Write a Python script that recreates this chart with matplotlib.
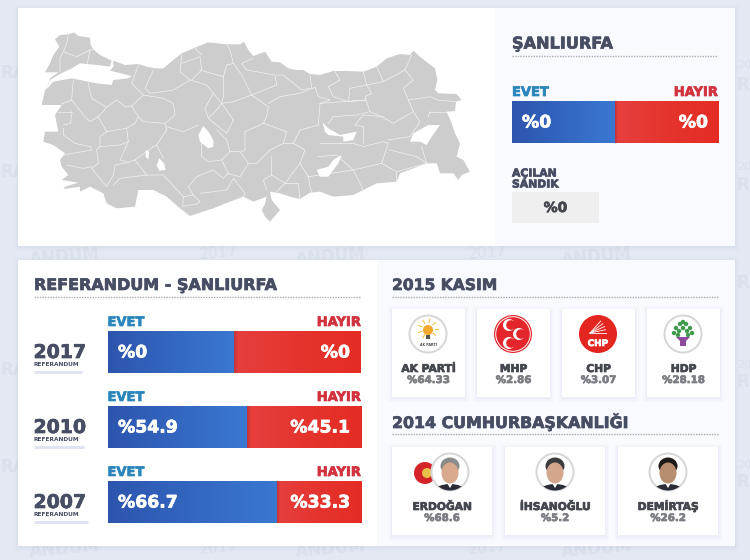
import numpy as np
import matplotlib
matplotlib.use('Agg')
import matplotlib.pyplot as plt
import matplotlib.patheffects as pe
from matplotlib.colors import LinearSegmentedColormap
from matplotlib.patches import Rectangle, Circle, Ellipse, Polygon

plt.rcParams['font.family'] = ['DejaVu Sans']
plt.rcParams['font.weight'] = 'bold'

# data
city = 'ŞANLIURFA'
current_evet = [0]
current_hayir = [0]
opened = 0

ref_years = ['2017', '2010', '2007']
ref_evet = [0, 54.9, 66.7]
ref_hayir = [0, 45.1, 33.3]

party_names = ['AK PARTİ', 'MHP', 'CHP', 'HDP']
party_vals = ['%64.33', '%2.86', '%3.07', '%28.18']

cand_names = ['ERDOĞAN', 'İHSANOĞLU', 'DEMİRTAŞ']
cand_vals = ['%68.6', '%5.2', '%26.2']

# map, 3x pixel coords
anatolia = [(340,182),(375,195),(415,192),(440,200),(465,205),(490,205),(520,180),(545,160),(585,143),(625,127),
            (680,133),(720,133),(732,125),(745,150),(760,168),(795,155),(815,185),(840,187),(865,205),(890,210),
            (910,210),(930,222),(960,225),(1000,213),(1040,213),(1090,215),(1130,200),(1160,175),(1200,162),(1230,165),
            (1240,152),(1260,170),(1285,190),(1305,205),(1312,240),(1305,270),(1315,280),(1370,282),(1385,300),(1368,305),
            (1365,333),(1340,335),(1355,370),(1365,400),(1380,430),(1370,470),(1390,480),(1410,515),(1385,525),(1375,540),
            (1360,520),(1320,520),(1310,490),(1280,490),(1240,505),(1200,520),(1190,545),(1130,550),(1100,565),(1060,585),
            (1000,590),(960,575),(930,578),(900,597),(870,590),(840,580),(810,575),(815,600),(840,630),(810,665),
            (795,650),(785,630),(795,612),(800,590),(760,605),(730,590),(690,605),(640,625),(570,648),(540,625),
            (500,590),(460,570),(415,570),(405,620),(350,625),(320,610),(310,580),(270,560),(240,575),(240,560),
            (190,567),(195,560),(235,548),(185,540),(205,525),(185,500),(180,480),(195,460),(160,435),(130,425),
            (135,395),(175,395),(165,345),(185,315),(125,315),(135,270),(145,262),(160,245),(215,235),(240,240),
            (290,250),(335,255),(340,240),(385,235),(395,228),(330,212),(340,200)]
thrace = [(165,118),(180,105),(205,103),(222,97),(235,108),(270,113),(272,135),(280,148),(300,165),(335,182),
          (330,200),(290,195),(240,190),(215,205),(180,222),(150,240),(140,265),(150,235),(175,217),(135,217),
          (150,190),(160,165),(178,140)]
lakes = [[(610,378),(625,395),(640,420),(640,440),(625,445),(600,425),(595,405)],
         [(1230,425),(1240,400),(1285,375),(1320,375),(1295,410),(1280,435),(1260,425)],
         [(950,510),(985,500),(1000,480),(1025,465),(1015,490),(985,530),(960,530)],
         [(968,368),(985,385),(1020,405),(1070,395),(1060,420),(1030,425),(1030,410),(985,405),(975,395)],
         [(478,475),(492,490),(497,510),(478,512),(470,495)],
         [(437,450),(447,455),(445,478),(437,470)]]
borders = [[(205,103),(200,130),(190,155),(180,175),(180,215)],
           [(190,155),(230,170),(270,150),(280,148)],[(270,150),(262,190)],
           [(265,250),(275,295),(320,322),(350,300),(375,320),(395,318),(430,285),(395,250),(415,195)],
           [(220,240),(215,300),(185,312)],
           [(215,300),(250,345),(270,365),(295,350),(320,322)],
           [(215,335),(175,335)],[(215,335),(212,370),(190,375)],
           [(295,350),(320,395),(300,410),(300,440),(290,450)],
           [(320,395),(380,385),(385,425),(360,435),(300,440)],
           [(395,318),(415,350),(405,370),(380,385)],
           [(415,350),(430,365),(495,370),(525,345),(520,310),(490,295),(430,285)],
           [(190,385),(190,405),(225,430),(272,440),(275,450)],[(275,450),(190,465)],
           [(290,450),(295,490),(275,505),(320,560),(340,525),(345,495),(385,487)],
           [(200,495),(250,505),(275,500)],
           [(385,425),(360,480),(385,487),(405,480),(440,525)],
           [(340,555),(360,535),(440,525),(490,525),(550,590),(548,620)],
           [(495,370),(500,390),(470,435),(460,440),(405,480)],[(470,435),(490,475)],
           [(500,380),(550,395),(595,375)],
           [(605,430),(605,470),(625,485),(665,480),(690,455),(680,420),(650,390)],
           [(665,480),(685,520),(670,535),(640,510),(590,530),(565,560),(580,585),(550,590)],
           [(680,520),(720,530),(745,490),(720,455),(690,455)],
           [(580,585),(600,605),(590,612),(550,618)],
           [(600,580),(680,570),(700,535),(735,580),(730,590)],
           [(745,490),(770,490),(810,450),(850,430),(860,395),(790,370),(735,395),(735,450),(725,455)],
           [(700,360),(680,400),(625,355),(650,330),(665,310),(700,360)],
           [(665,310),(640,280),(615,325),(625,355)],
           [(640,280),(620,255),(570,240),(520,270),(450,280),(435,265),(460,210)],
           [(570,240),(540,215),(545,165)],[(575,240),(605,210),(600,170),(545,190)],[(585,145),(605,165)],
           [(600,210),(670,230),(680,195),(700,190),(690,150),(682,135)],
           [(670,230),(670,290),(665,310),(700,305),(755,285),(725,225),(700,190)],
           [(755,285),(805,320),(800,350),(790,370)],
           [(805,310),(840,290),(900,280),(945,262),(955,290),(990,300),(960,310),(955,375)],
           [(755,285),(830,255),(825,225),(740,210),(725,190),(760,175)],
           [(830,225),(850,225),(905,270),(930,265)],[(930,225),(935,262)],
           [(955,375),(900,390),(880,430),(850,430)],
           [(880,430),(915,450),(900,490),(925,530),(930,560),(935,578)],
           [(815,470),(815,525),(790,540),(800,570)],[(815,525),(855,550),(900,490)],
           [(855,550),(830,575)],[(855,550),(895,550),(900,597)],
           [(925,530),(1060,510),(1090,570)],[(955,470),(1010,465),(1060,510)],
           [(1060,510),(1145,490),(1165,430),(1150,425),(1090,440),(1060,430),(960,430)],
           [(1145,490),(1190,515),(1190,545)],[(1190,515),(1280,490)],
           [(1170,450),(1190,455),(1250,470),(1280,490),(1265,440)],
           [(1165,420),(1230,410),(1260,365),(1240,335),(1180,370),(1145,350),(1110,335),(1095,290),(1115,280)],
           [(1240,335),(1225,300),(1290,290),(1312,300),(1368,305)],
           [(1290,335),(1340,335)],[(1285,350),(1290,335)],
           [(1225,300),(1210,265),(1240,240),(1215,210),(1235,165)],
           [(1215,210),(1150,245),(1130,200)],[(1150,245),(1100,255),(1090,215)],[(1100,255),(1115,280)],
           [(1005,215),(1020,240),(985,260),(1000,290),(1045,305),(1050,265),(1100,255)],
           [(1100,300),(1045,305)],[(960,310),(1095,300)],
           [(1110,335),(1070,345),(1000,350),(985,370)],
           [(1150,350),(1090,345),(1065,375),(1090,380),(1090,430)],
           [(335,182),(340,200)]]

NAVY = '#474d63'
EVET_C = '#2b86bb'
HAYIR_C = '#d2333f'
WATER = '#dae0ec'
blue_map = LinearSegmentedColormap.from_list('b', ['#2d55ae', '#3a78d2'])
red_map = LinearSegmentedColormap.from_list('r', [(0, '#c23538'), (0.03, '#e63f3e'), (0.5, '#e5342e'), (1, '#e42c24')])

fig = plt.figure(figsize=(7.5, 5.6), dpi=100, facecolor='#e3e8f3')
ax = fig.add_axes([0, 0, 1, 1])
ax.set_xlim(0, 750)
ax.set_ylim(560, 0)
ax.axis('off')


def split_bar(x0, y0, x1, y1, evet, hayir):
    # own axes so the split comes from the percent scale
    b = fig.add_axes([x0 / 750, 1 - y1 / 560, (x1 - x0) / 750, (y1 - y0) / 560])
    b.set_xlim(0, 100)
    b.set_ylim(-0.5, 0.5)
    b.axis('off')
    if evet + hayir == 0:
        evet, hayir = 50, 50
    bars = b.barh([0, 0], [evet, hayir], left=[0, evet], height=1, color=['#3366c0', '#e53530'])
    for bar, cm in zip(bars, [blue_map, red_map]):
        im = b.imshow(np.linspace(0, 1, 128).reshape(1, -1),
                      extent=[bar.get_x(), bar.get_x() + bar.get_width(), -0.5, 0.5],
                      aspect='auto', cmap=cm, zorder=3)
        im.set_clip_path(bar)
    b.set_xlim(0, 100)
    b.set_ylim(-0.5, 0.5)


def card(x0, y0, x1, y1, z=1):
    for i, al in zip([4, 2.5, 1], [0.025, 0.035, 0.05]):
        ax.add_patch(Rectangle((x0 - i, y0 - i + 1), x1 - x0 + 2 * i, y1 - y0 + 2 * i, fc='#8f9bc0', ec='none', alpha=al, zorder=z))
    ax.add_patch(Rectangle((x0, y0), x1 - x0, y1 - y0, fc='white', ec='none', zorder=z))


def dotted(x0, x1, y):
    ax.plot([x0, x1], [y, y], color='#a9acb4', lw=1.0, ls=(0, (1, 0.9)), zorder=2)


def ring(x, y, r=18.5):
    c = Circle((x, y), r, fc='white', ec='#d6d6d6', lw=1.4, zorder=4)
    ax.add_patch(c)
    return c


def face(x, y, skin, hair, clip):
    # portrait stand-in
    suit = Ellipse((x, y + 19), 30, 14, fc='#2a2d38', ec='none', zorder=5)
    ax.add_patch(suit)
    suit.set_clip_path(clip)
    ax.add_patch(Polygon([(x - 3, y + 11), (x + 3, y + 11), (x, y + 16)], fc='white', ec='none', zorder=6))
    ax.add_patch(Ellipse((x, y - 6), 19, 17, fc=hair, ec='none', zorder=6))
    ax.add_patch(Ellipse((x, y + 1), 17, 21, fc=skin, ec='none', zorder=7))


# background lettering, panels cover most of it
for tx in [100, 366, 632]:
    for ty in [259, 551]:
        ax.text(tx, ty, 'ANDUM', fontsize=12, color=WATER, rotation=5, rotation_mode='anchor',
                ha='right', va='baseline', zorder=0)
for tx in [200, 469]:
    for ty in [259, 554]:
        ax.text(tx, ty, '2017', fontsize=11, fontweight='normal', color=WATER, rotation=5, rotation_mode='anchor', zorder=0)
for ty in [78, 177, 375, 472]:
    ax.text(0, ty, 'RA', fontsize=12, color=WATER, zorder=0)
for ty in [90, 190, 288, 387, 487]:
    ax.text(737, ty, 'R', fontsize=12, color=WATER, zorder=0)
for ty in [68, 170, 368, 468]:
    ax.text(737, ty, '20', fontsize=8, fontweight='normal', color=WATER, zorder=0)

# top panel
card(18, 8, 735, 246)
ax.add_patch(Rectangle((495, 8), 240, 238, fc='#f9faff', ec='none', zorder=1))
ax.add_patch(Polygon(np.array(anatolia) / 3, fc='#cdcdcd', ec='none', zorder=2))
ax.add_patch(Polygon(np.array(thrace) / 3, fc='#cdcdcd', ec='none', zorder=2))
for b in borders:
    pts = np.array(b) / 3
    ax.plot(pts[:, 0], pts[:, 1], color='#f2f2f2', lw=0.5, solid_joinstyle='round', zorder=2)
for l in lakes:
    ax.add_patch(Polygon(np.array(l) / 3, fc='white', ec='none', zorder=2))

ax.text(512, 48.5, city, fontsize=11.6, color=NAVY, zorder=3)
dotted(512, 718, 56)
ax.text(512, 96, 'EVET', fontsize=9.4, color=EVET_C, zorder=3)
ax.text(718, 96, 'HAYIR', fontsize=9.4, color=HAYIR_C, ha='right', zorder=3)
split_bar(511.5, 101, 718.5, 143, current_evet[0], current_hayir[0])
fig.text(522 / 750, 1 - 122.5 / 560, '%' + str(current_evet[0]), fontsize=12.4, color='white', va='center', zorder=10)
fig.text(708 / 750, 1 - 122.5 / 560, '%' + str(current_hayir[0]), fontsize=12.4, color='white', va='center', ha='right', zorder=10)
ax.text(512, 176.5, 'AÇILAN', fontsize=7.8, color=NAVY, zorder=3)
ax.text(512, 187.5, 'SANDIK', fontsize=7.8, color=NAVY, zorder=3)
ax.add_patch(Rectangle((511.5, 192), 87.5, 31, fc='#efefef', ec='none', zorder=2))
ax.text(555.5, 208, '%' + str(opened), fontsize=10, color='#45474f', ha='center', va='center', zorder=3)

# bottom panel
card(18, 260, 735, 546)
ax.add_patch(Rectangle((377, 260), 358, 286, fc='#f9faff', ec='none', zorder=1))
ax.text(34, 290, 'REFERANDUM - ŞANLIURFA', fontsize=11.5, color=NAVY, zorder=3)
dotted(34, 361, 297)
ref_tops = [331, 406, 481]
under = [82, 84, 88]
for i, yr in enumerate(ref_years):
    t = ref_tops[i]
    ax.text(107.5, t - 5, 'EVET', fontsize=9.4, color=EVET_C, zorder=3)
    ax.text(361, t - 5, 'HAYIR', fontsize=9.4, color=HAYIR_C, ha='right', zorder=3)
    split_bar(107.5, t, 361, t + 42, ref_evet[i], ref_hayir[i])
    for xp, v, ha in [(118, ref_evet[i], 'left'), (350, ref_hayir[i], 'right')]:
        fig.text(xp / 750, 1 - (t + 21.5) / 560, '%' + str(v), fontsize=12.4, color='white', va='center', ha=ha, zorder=10)
    ax.text(33.5, t + 27, yr, fontsize=13.6, color=NAVY, zorder=3)
    ax.text(34, t + 33.5, 'REFERANDUM', fontsize=4.2, color=NAVY, va='center', zorder=3)
    ax.plot([34, under[i]], [t + 40.5, t + 40.5], color='#dfe4f0', lw=2.2, solid_capstyle='butt', zorder=2)

ax.text(392, 290, '2015 KASIM', fontsize=11.2, color=NAVY, zorder=3)
dotted(392, 719, 297)
party_x = [392, 477, 562, 647]
for i, name in enumerate(party_names):
    x0 = party_x[i]
    card(x0, 309, x0 + 72.5, 397, z=2)
    cx = x0 + 36.5
    ax.text(cx, 372, name, fontsize=7.7, color='#45474f', ha='center', zorder=3)
    ax.text(cx, 383, party_vals[i], fontsize=7.4, color='#7c7e84', ha='center', zorder=3)

# party badges
ring(428, 334)
ax.add_patch(Circle((428, 330), 5, fc='#f3a72b', ec='none', zorder=5))
for ang in np.arange(0, 360, 40):
    ax.plot([428 + 6.5 * np.cos(np.radians(ang)), 428 + 10 * np.cos(np.radians(ang))],
            [329 + 6.5 * np.sin(np.radians(ang)), 329 + 10 * np.sin(np.radians(ang))], color='#f6c04a', lw=0.8, zorder=5)
ax.add_patch(Rectangle((426, 335), 4, 4, fc='#555555', ec='none', zorder=6))
ax.text(428, 345.5, 'AK PARTİ', fontsize=2.4, color='#444444', ha='center', va='center', zorder=6)

ax.add_patch(Circle((513, 334), 19, fc='#e3262b', ec='none', zorder=4))
ax.add_patch(Circle((513, 334), 17.3, fc='none', ec='white', lw=0.7, zorder=5))
for cx, cy in [(509, 325), (509, 343), (519, 334)]:
    ax.add_patch(Circle((cx, cy), 6, fc='white', ec='none', zorder=5))
    ax.add_patch(Circle((cx + 2, cy), 4.8, fc='#e3262b', ec='none', zorder=6))

ax.add_patch(Circle((598, 334), 19, fc='#e3261f', ec='none', zorder=4))
for ang in [0, 12, 24, 36, 48]:
    ax.plot([590, 590 + 16 * np.cos(np.radians(ang))], [333, 333 - 16 * np.sin(np.radians(ang))], color='white', lw=0.6, zorder=5)
ax.text(598, 343.5, 'CHP', fontsize=6.4, color='white', ha='center', va='center', zorder=5)

ring(683, 334)
for dx, dy in [(-7, -3), (-3, -7), (3, -7), (7, -3), (-9, 2), (-4, 0), (0, -3), (4, 0), (9, 2), (0, -9), (-5, 4), (5, 4)]:
    ax.add_patch(Circle((683 + dx, 331 + dy), 2.2, fc='#3f9a4c', ec='none', zorder=5))
ax.add_patch(Polygon([(676, 337), (690, 337), (686, 341), (686, 346), (680, 346), (680, 341)], fc='#8e4a9e', ec='none', zorder=5))

ax.text(392, 428, '2014 CUMHURBAŞKANLIĞI', fontsize=11.4, color=NAVY, zorder=3)
dotted(392, 719, 434)
cand_x = [392, 505, 618]
for i, name in enumerate(cand_names):
    x0 = cand_x[i]
    card(x0, 447, x0 + 100, 535, z=2)
    ax.text(x0 + 50, 510, name, fontsize=7.7, color='#45474f', ha='center', zorder=3)
    ax.text(x0 + 50, 521, cand_vals[i], fontsize=7.4, color='#7c7e84', ha='center', zorder=3)

ax.add_patch(Circle((425, 473), 11, fc='#d4232a', ec='none', zorder=3))
ax.add_patch(Circle((427, 473), 5, fc='#e9c04a', ec='none', zorder=3))
for (cx, skin, hair) in [(450, '#d8a98c', '#8b8b8b'), (555, '#d5a68e', '#3b3b3b'), (668, '#b98d6f', '#1f1b18')]:
    c = ring(cx, 472)
    face(cx, 472, skin, hair, c)

# the original face is heavier than DejaVu bold
for t in ax.texts + fig.texts:
    if t.get_zorder() > 0 and t.get_fontsize() > 5:
        t.set_path_effects([pe.withStroke(linewidth=0.5, foreground=t.get_color())])

fig.savefig('out.png', dpi=100, facecolor=fig.get_facecolor())
